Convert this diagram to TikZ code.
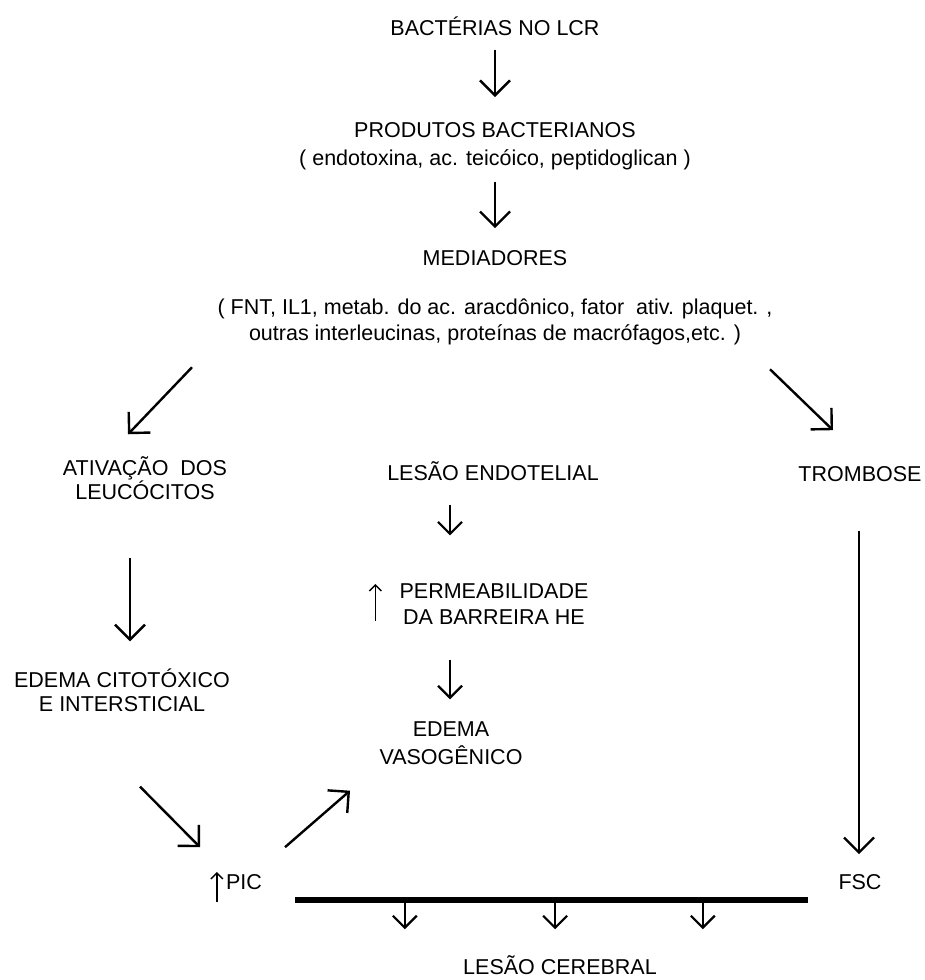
\documentclass[tikz,border=0pt]{standalone}
\usepackage{fontspec}
\setmainfont{Liberation Sans}
\usetikzlibrary{arrows.meta}
\begin{document}
\begin{tikzpicture}[x=1pt,y=-1pt,
  every node/.style={font=\fontsize{21.5}{26}\selectfont,align=center,inner sep=0pt},
  arr/.style={line width=2.4pt,-{Straight Barb[length=15pt,width=30pt]}},
  sarr/.style={line width=2.2pt,-{Straight Barb[length=12pt,width=24pt]}},
  uparr/.style={line width=1.4pt,-{Straight Barb[length=6pt,width=12pt]}},
  bar/.style={line width=6pt}]
\useasboundingbox (0,0) rectangle (924,980);

% texts
\node (bact)  at (495,26)  {BACTÉRIAS NO LCR};
\node (prod)  at (495,146) {PRODUTOS BACTERIANOS\\[2pt]( endotoxina, ac. teicóico, peptidoglican )};
\node (med)   at (495,258) {MEDIADORES};
\node (medx)  at (495,322) {( FNT, IL1, metab. do ac. aracdônico, fator~ ativ. plaquet. ,\\outras interleucinas, proteínas de macrófagos,etc. )};
\node (ativ)  at (145,478) {ATIVAÇÃO~ DOS\\[-2pt]LEUCÓCITOS};
\node (endo)  at (493,471) {LESÃO ENDOTELIAL};
\node (tromb) at (860,474) {TROMBOSE};
\node (perm)  at (494,604) {PERMEABILIDADE\\DA BARREIRA HE};
\node (cito)  at (122,690) {EDEMA CITOTÓXICO\\[-2pt]E INTERSTICIAL};
\node (vaso)  at (451,743) {EDEMA\\[2pt]VASOGÊNICO};
\node (pic)   at (244,882) {PIC};
\node (fsc)   at (860,882) {FSC};
\node (cereb) at (560,965) {LESÃO CEREBRAL};

% increase marks
\draw[uparr] ([shift={(-24,17)}]perm.west) -- ([shift={(-24,-20)}]perm.west);
\draw[uparr] ([shift={(-9,20)}]pic.west) -- ([shift={(-9,-10)}]pic.west);

% cascade
\draw[arr,shorten <=14pt,shorten >=25pt] (bact.south) -- (prod.north);
\draw[arr,shorten <=12pt,shorten >=22pt] (prod.south) -- (med.north);
\draw[arr] ([shift={(-303,22)}]medx.south) -- ([shift={(-17,-22)}]ativ.north);
\draw[arr] ([shift={(275,24)}]medx.south) -- ([shift={(-27,-36)}]tromb.north);
\draw[sarr] ([shift={(-43,24)}]endo.south) -- ([shift={(-44,-48)}]perm.north);
\draw[arr] ([shift={(-15,58)}]ativ.south) -- ([shift={(8,-27)}]cito.north);
\draw[sarr] ([shift={(-44,35)}]perm.south) -- ([shift={(-1,-22)}]vaso.north);
\draw[arr] ([shift={(-1,49)}]tromb.south) -- ([shift={(-1,-20)}]fsc.north);
\draw[arr] ([shift={(18,75)}]cito.south) -- ([shift={(-44,-27)}]pic.north);
\draw[arr] ([shift={(41,-27)}]pic.north) -- ([shift={(-101,26)}]vaso.south);

% joint effect
\draw[bar] ([shift={(51,10)}]pic.south) -- ([shift={(-52,10)}]fsc.south)
  coordinate[pos=0.214] (b1) coordinate[pos=0.507] (b2) coordinate[pos=0.795] (b3);
\foreach \b in {b1,b2,b3}
  \draw[sarr] (\b) -- (\b |- cereb.north) [shorten >=26pt];
\end{tikzpicture}
\end{document}
